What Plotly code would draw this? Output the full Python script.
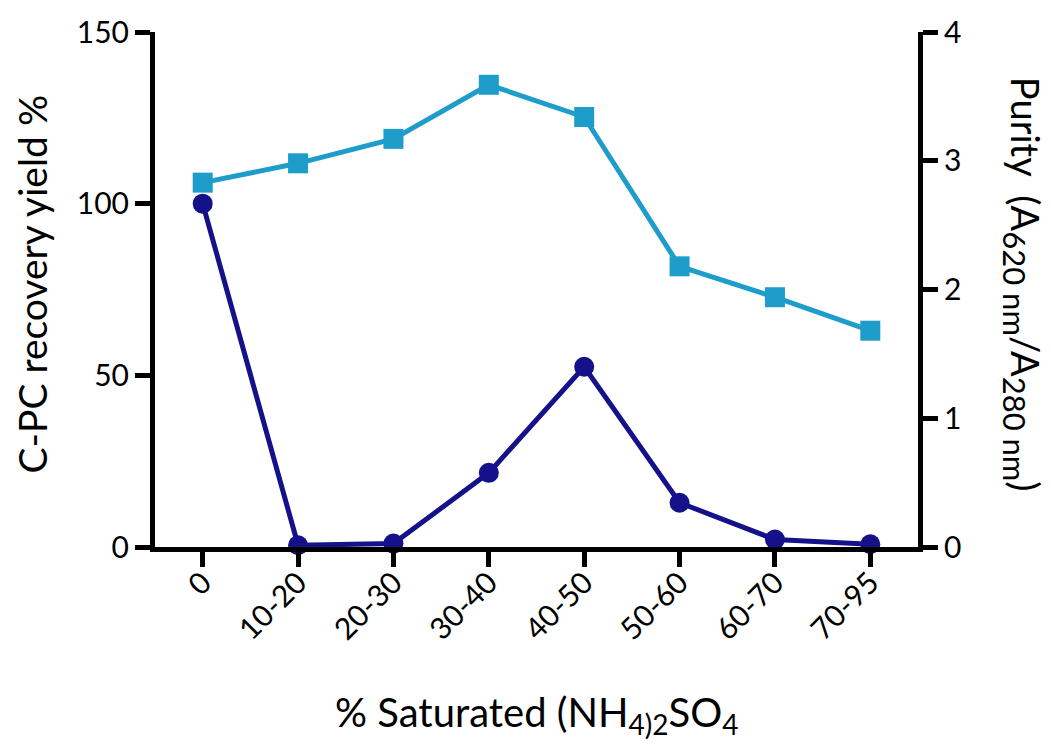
import plotly.graph_objects as go

categories = ["0", "10-20", "20-30", "30-40", "40-50", "50-60", "60-70", "70-95"]
yield_pct = [100, 0.5, 1.0, 21.6, 52.5, 12.9, 2.2, 0.8]
purity = [2.83, 2.98, 3.17, 3.59, 3.34, 2.18, 1.94, 1.68]
left_ticks = [0, 50, 100, 150]
right_ticks = [0, 1, 2, 3, 4]

DARK = "#15118a"
LIGHT = "#1e9dcb"
FONT = "Lato"

x_idx = list(range(len(categories)))

fig = go.Figure()
fig.add_trace(go.Scatter(
    x=x_idx, y=purity, yaxis="y2", mode="lines+markers",
    line=dict(color=LIGHT, width=5),
    marker=dict(symbol="square", size=20, color=LIGHT),
    showlegend=False, cliponaxis=False))
fig.add_trace(go.Scatter(
    x=x_idx, y=yield_pct, mode="lines+markers",
    line=dict(color=DARK, width=5),
    marker=dict(symbol="circle", size=20, color=DARK),
    showlegend=False, cliponaxis=False))

axis_common = dict(ticks="outside", ticklen=15, tickwidth=5, tickcolor="black",
                   showline=True, linewidth=5, linecolor="black",
                   showgrid=False, zeroline=False)

fig.update_layout(
    width=1051, height=745,
    margin=dict(l=155, r=133, t=30, b=198),
    paper_bgcolor="white", plot_bgcolor="white",
    font=dict(family=FONT, color="black", size=28),
    xaxis=dict(
        range=[-0.5, 7.5], tickmode="array",
        tickvals=x_idx, ticktext=categories,
        tickangle=-45, ticklabelstandoff=-14,
        tickfont=dict(size=30, family=FONT), **axis_common,
    ),
    yaxis=dict(
        range=[0, 150], tickvals=left_ticks,
        tickfont=dict(size=30, family=FONT), **axis_common,
    ),
    yaxis2=dict(
        range=[0, 4], tickvals=right_ticks, overlaying="y", side="right",
        tickfont=dict(size=30, family=FONT), **axis_common,
    ),
    annotations=[
        dict(text="C-PC recovery yield %", xref="paper", yref="paper",
             x=-0.161, y=0.51, textangle=-90, showarrow=False,
             font=dict(size=39, family=FONT), xanchor="center", yanchor="middle"),
        dict(text="Purity  (A<sub><span style='font-size:31px'>620 nm</span></sub>/A<sub><span style='font-size:31px'>280 nm</span></sub>)",
             xref="paper", yref="paper",
             x=1.137, y=0.51, textangle=90, showarrow=False,
             font=dict(size=38, family=FONT), xanchor="center", yanchor="middle"),
        dict(text="% Saturated (NH<sub>4)2</sub>SO<sub>4</sub>", xref="paper", yref="paper",
             x=0.5, y=-0.325, showarrow=False,
             font=dict(size=40, family=FONT), xanchor="center", yanchor="middle"),
    ],
)

fig.write_html("out.html")
